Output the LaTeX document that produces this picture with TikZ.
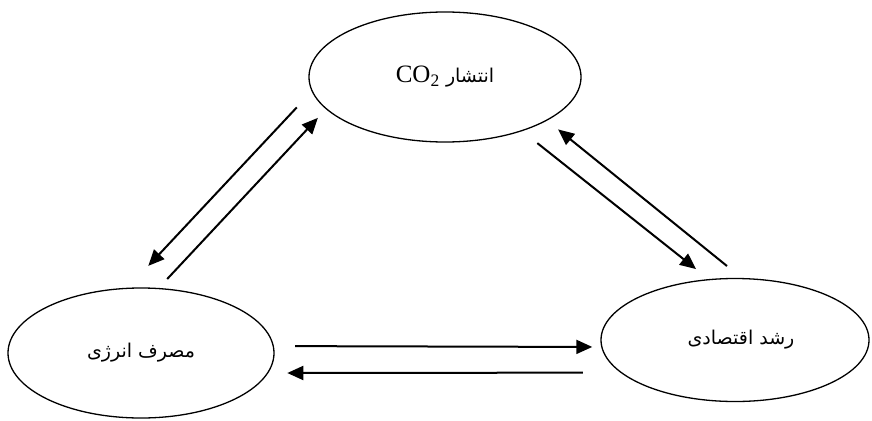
\documentclass[tikz,border=0pt]{standalone}
\usepackage{fontspec}
\setmainfont{Liberation Serif}
\newfontfamily\arabicfont[Script=Arabic]{DejaVu Sans}
\TeXXeTstate=1
\usetikzlibrary{shapes.geometric,arrows.meta}
\tikzset{
    %Define standard arrow tip
    >={Triangle[length=16pt,width=14pt]},
    % Define arrow style
    pil/.style={
           ->,
           line width=2pt},
    % Define ellipse style
    blob/.style={
           ellipse,
           draw,
           line width=1.3pt,
           inner sep=0pt,
           outer sep=0pt},
    fa/.style={font=\arabicfont\fontsize{19}{23}\selectfont}
}

\begin{document}
\begin{tikzpicture}[x=1pt, y=-1pt]

\useasboundingbox (0,0) rectangle (872,420);

%%%%%%%%%%%%%%%%%%%%%%%%%%%%%%%%%

% ellipses
\node [blob, minimum width=272pt, minimum height=130pt] (co2) at (445,77)
      {\fontsize{25}{28}\selectfont\beginR{\arabicfont\fontsize{19}{23}\selectfont انتشار} \beginL CO\textsubscript{2}\endL\endR};
\node [blob, fa, minimum width=266pt, minimum height=130pt] (energy) at (141,353)
      {\beginR مصرف انرژی\endR};
\node [blob, fa, minimum width=268pt, minimum height=123pt] (growth) at (735,340)
      {\hspace*{12pt}\beginR رشد اقتصادی\endR};

% co2 - energy
\draw [pil, shorten <=22.5pt, shorten >=30.8pt] (co2.186) -- (energy.102);
\draw [pil, shorten <=13.1pt, shorten >=12.4pt] (energy.75) -- (co2.195);

% co2 - growth
\draw [pil, shorten <=20pt, shorten >=17pt] (co2.325) -- (growth.113);
\draw [pil, shorten <=20pt, shorten >=14.7pt] (growth.83) -- (co2.337);

% energy - growth
\draw [pil, shorten <=22pt, shorten >=9.6pt] (energy.3) -- (growth.183);
\draw [pil, shorten <=38.6pt, shorten >=19.8pt] (growth.196) -- (energy.351);

\end{tikzpicture}
\end{document}
